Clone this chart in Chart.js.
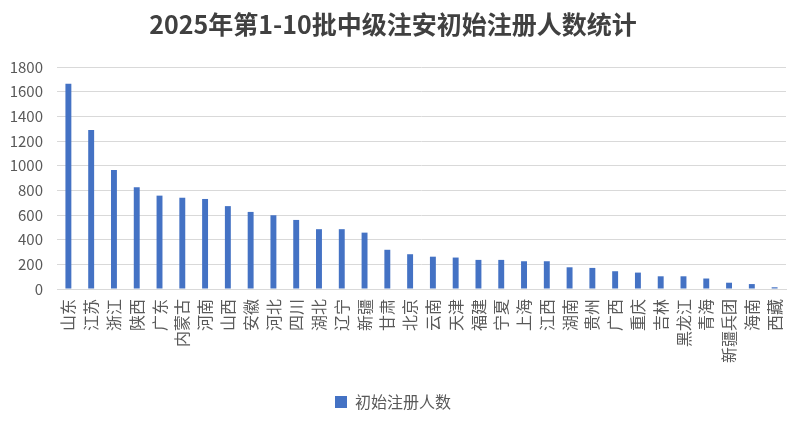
<!DOCTYPE html>
<html>
<head>
<meta charset="utf-8">
<script src="https://cdn.jsdelivr.net/npm/chart.js@4"></script>
<style>
  html, body { margin: 0; padding: 0; background: #fff; }
  #wrap { width: 801px; height: 423px; }
</style>
</head>
<body>
<div id="wrap"><canvas id="regChart"></canvas></div>
<script>
    const provinces = ['山东', '江苏', '浙江', '陕西', '广东', '内蒙古', '河南', '山西', '安徽', '河北',
        '四川', '湖北', '辽宁', '新疆', '甘肃', '北京', '云南', '天津', '福建', '宁夏',
        '上海', '江西', '湖南', '贵州', '广西', '重庆', '吉林', '黑龙江', '青海', '新疆兵团',
        '海南', '西藏'];
    const registrations = [1665, 1290, 965, 825, 757, 740, 730, 672, 625, 598,
        560, 485, 485, 457, 318, 282, 262, 255, 236, 236,
        225, 225, 176, 171, 144, 133, 103, 103, 85, 51,
        40, 14];
    const yTicks = [0, 200, 400, 600, 800, 1000, 1200, 1400, 1600, 1800];

    const fontFamily = '"Noto Sans CJK SC", "Noto Sans", sans-serif';
    const textColor = '#595959';

    const ctx = document.getElementById('regChart').getContext('2d');

    new Chart(ctx, {
        type: 'bar',
        data: {
            labels: provinces,
            datasets: [
                {
                    label: '初始注册人数',
                    data: registrations,
                    backgroundColor: '#4472C4',
                    borderWidth: 0,
                    barPercentage: 0.52,
                    categoryPercentage: 0.5
                }
            ]
        },
        options: {
            responsive: true,
            maintainAspectRatio: false,
            animation: false,
            layout: {
                padding: { left: 0, right: 15, top: 0, bottom: 3 }
            },
            plugins: {
                title: {
                    display: true,
                    text: '2025年第1-10批中级注安初始注册人数统计',
                    color: '#404040',
                    font: { family: fontFamily, size: 25, weight: 'bold' },
                    padding: { top: 9, bottom: 28 }
                },
                legend: {
                    position: 'bottom',
                    labels: {
                        color: textColor,
                        font: { family: fontFamily, size: 16 },
                        boxWidth: 12,
                        boxHeight: 12,
                        padding: 13
                    }
                },
                tooltip: { enabled: false }
            },
            scales: {
                x: {
                    grid: { display: false },
                    border: { color: '#D9D9D9' },
                    ticks: {
                        color: textColor,
                        font: { family: fontFamily, size: 16 },
                        minRotation: 90,
                        maxRotation: 90,
                        autoSkip: false,
                        padding: 2
                    },
                    afterFit: function(scale) {
                        scale.height = 92;
                    }
                },
                y: {
                    min: 0,
                    max: yTicks[yTicks.length - 1],
                    afterBuildTicks: function(scale) {
                        scale.ticks = yTicks.map(v => ({ value: v }));
                    },
                    grid: { color: '#D9D9D9', drawTicks: false },
                    border: { display: false },
                    ticks: {
                        color: textColor,
                        font: { family: fontFamily, size: 15 },
                        padding: 14,
                        callback: function(value) {
                            return String(value);
                        }
                    },
                    afterFit: function(scale) {
                        scale.width = 57;
                    }
                }
            }
        }
    });
</script>
</body>
</html>
